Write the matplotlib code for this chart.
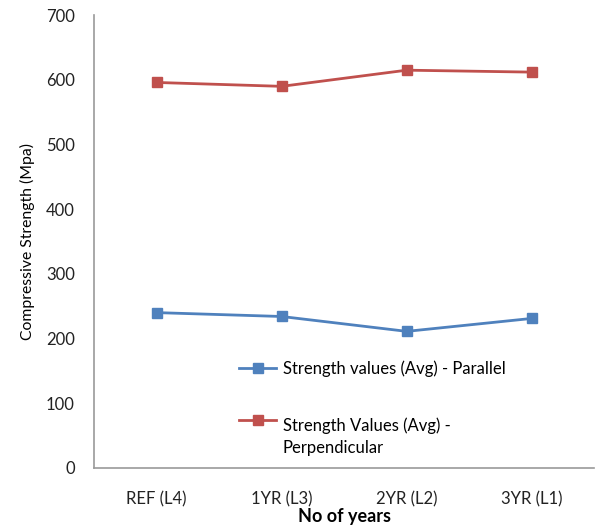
import matplotlib
matplotlib.use("Agg")
import matplotlib.pyplot as plt
from matplotlib.legend_handler import HandlerLine2D

categories = ["REF (L4)", "1YR (L3)", "2YR (L2)", "3YR (L1)"]
parallel = [240, 234, 211, 231]
perpendicular = [596, 590, 615, 612]
labels = ["Strength values (Avg) - Parallel", "Strength Values (Avg) -\nPerpendicular"]
yticks = [0, 100, 200, 300, 400, 500, 600, 700]

plt.rcParams['font.family'] = ['Lato', 'DejaVu Sans']

fig = plt.figure(figsize=(5.96, 5.25), dpi=100)
ax = fig.add_axes([0.158, 0.109, 0.839, 0.862])

x = list(range(len(categories)))
l1, = ax.plot(x, parallel, color="#4F81BD", marker="s", markersize=7, linewidth=2)
l2, = ax.plot(x, perpendicular, color="#C0504D", marker="s", markersize=7, linewidth=2)

ax.set_xlim(-0.5, 3.5)
ax.set_ylim(0, 700)
ax.set_yticks(yticks)
ax.set_xticks(x)
ax.set_xticklabels(categories)
ax.tick_params(axis="y", length=0, pad=14, labelsize=12, colors="#222222")
ax.tick_params(axis="x", length=0, pad=17, labelsize=12, colors="#222222")

for s in ["top", "right"]:
    ax.spines[s].set_visible(False)
for s in ["left", "bottom"]:
    ax.spines[s].set_color("#9a9a9a")
    ax.spines[s].set_linewidth(1.2)

ax.set_xlabel("No of years", fontsize=13, fontweight="bold", labelpad=0)
ax.set_ylabel("Compressive Strength (Mpa)", fontsize=11.3, labelpad=8)


class HandlerFirstLine(HandlerLine2D):
    def create_artists(self, legend, orig_handle, xdescent, ydescent, width,
                       height, fontsize, trans):
        arts = super().create_artists(legend, orig_handle, xdescent, ydescent,
                                      width, height, fontsize, trans)
        for a in arts:
            a.set_ydata([y + fontsize * 1.0 for y in a.get_ydata()])
        return arts


fs_leg = 12
leg = ax.legend([l1, l2], labels, loc="upper left", bbox_to_anchor=(0.26, 0.27),
                frameon=False, fontsize=fs_leg, handlelength=2.2, labelspacing=2.4,
                handletextpad=0.4, handler_map={l2: HandlerFirstLine()})
leg.get_texts()[1].set_linespacing(1.45)

fig.savefig("out.png", dpi=100)
